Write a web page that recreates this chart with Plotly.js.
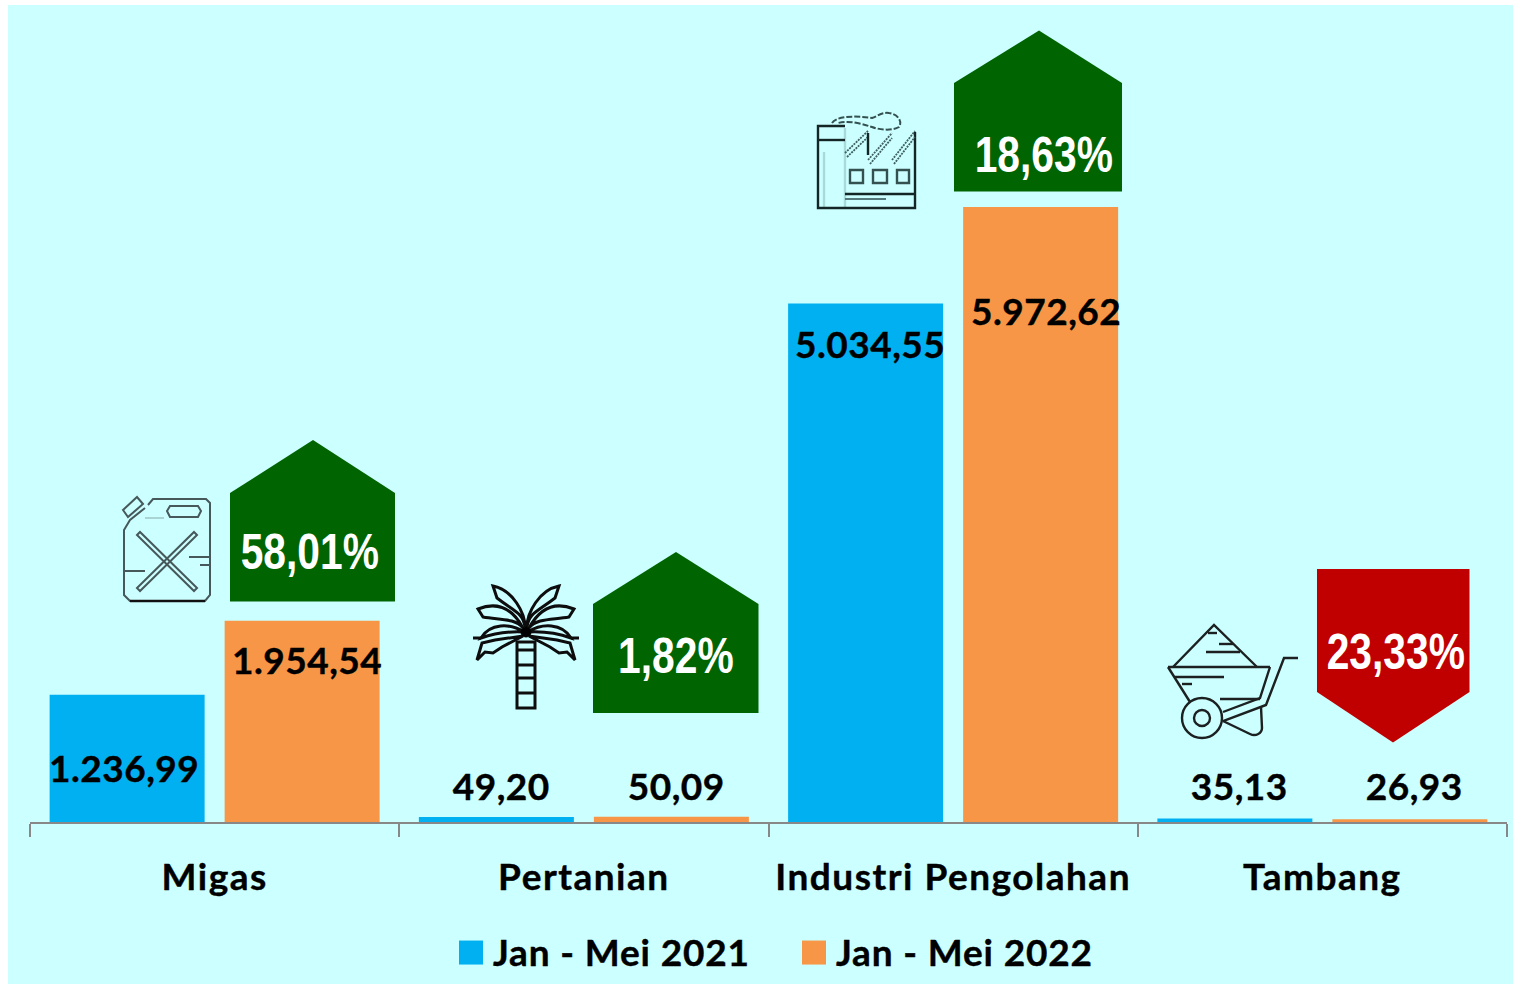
<!DOCTYPE html>
<html><head><meta charset="utf-8">
<script src="https://cdn.plot.ly/plotly-3.0.1.min.js"></script>
<style>html,body{margin:0;padding:0;background:#fff;overflow:hidden}
#chart .xtick text{letter-spacing:1.5px;stroke:#000;stroke-width:.4px}
#chart .legendtext{letter-spacing:.85px;stroke:#000;stroke-width:.4px}
</style>
</head><body><div id="chart" style="width:1513px;height:984px"></div>
<script>
const categories = ['Migas','Pertanian','Industri Pengolahan','Tambang'];
const seriesNames = ['Jan - Mei 2021','Jan - Mei 2022'];
const values2021 = [1236.99,49.20,5034.55,35.13];
const values2022 = [1954.54,50.09,5972.62,26.93];
const growthLabels = ['58,01%','1,82%','18,63%','23,33%'];

const W=1513,H=984,L=30,R=1507,B=822,T=0;
const LABEL_FONT='Lato, Carlito, "Open Sans", sans-serif';
const X=p=>(p-L)/(R-L), Y=p=>(B-p)/(B-T);
// converts an absolute pixel path string to paper coordinates
const P=s=>s.replace(/(-?[\d.]+),(-?[\d.]+)/g,(m,a,b)=>X(+a).toFixed(5)+','+Y(+b).toFixed(5));
const shp=(d,o={})=>({type:'path',xref:'paper',yref:'paper',path:P(d),
  line:{color:o.c||'#1f1f1f',width:o.w===undefined?2:o.w,dash:o.dash||'solid'},
  fillcolor:o.f||'rgba(0,0,0,0)',layer:o.layer||'above'});
const circle=(cx,cy,r)=>{const k=r*0.5523;return `M${cx-r},${cy} C${cx-r},${cy-k} ${cx-k},${cy-r} ${cx},${cy-r} C${cx+k},${cy-r} ${cx+r},${cy-k} ${cx+r},${cy} C${cx+r},${cy+k} ${cx+k},${cy+r} ${cx},${cy+r} C${cx-k},${cy+r} ${cx-r},${cy+k} ${cx-r},${cy} Z`};

const GREEN='#006400',RED='#C00000';
const shapes=[
  shp('M8,5 L1513,5 L1513,984 L8,984 Z',{f:'#CCFFFF',w:0,layer:'below'}),
  shp('M230,601.5 L230,493 L313,440 L395,493 L395,601.5 Z',{f:GREEN,w:0}),
  shp('M593,713 L593,604 L676,552 L758.5,604 L758.5,713 Z',{f:GREEN,w:0}),
  shp('M954,191.5 L954,83 L1039,30.5 L1122,83 L1122,191.5 Z',{f:GREEN,w:0}),
  shp('M1317,569 L1469.5,569 L1469.5,692 L1393,742.5 L1317,692 Z',{f:RED,w:0}),
];
// jerrycan
const can={c:'#46585a',w:2};
[
 'M148,505 L153,499 L206,499 L210,503 L210,595 L205,601 L130,601 L124,595 L124,530 L130,520 L145,508',
 'M123,510 L137,497 L143,504 L128,517 Z',
 'M170,506 L198,506 L201,511 L198,517 L170,517 L167,511 Z',
 'M137,535 L140,532 L197,588 L194,591 Z',
 'M194,532 L197,535 L140,591 L137,588 Z',
 'M125,571 L145,571','M189,557 L209,557','M200,565 L209,565'
].forEach(d=>shapes.push(shp(d,can)));
shapes.push(shp('M145,518 L164,518',{c:'#9fc4c4',w:1.5}));
shapes.push(shp('M130,601 L205,601',{c:'#111',w:2.5}));
// palm
const palm={c:'#0d0d0d',w:3};
[
 'M517,642 L535,642 L535,708 L517,708 Z','M517,650 L535,650','M517,665 L535,665','M517,678 L535,678','M517,693 L535,693',
 'M493,586 C513,590 525,613 525,627 C523,613 515,612 497,598 Z',
 'M559,586 C539,590 527,613 527,627 C529,613 537,612 555,598 Z',
 'M478,609 C493,603 510,604 523,628 C515,618 500,620 483,617 Z',
 'M574,609 C559,603 542,604 529,628 C537,618 552,620 569,617 Z',
 'M481,638 C490,623 510,623 524,632 C505,631 492,634 481,638 Z',
 'M571,638 C562,623 542,623 528,632 C547,631 560,634 571,638 Z',
 'M523,636 L495,640 L482,643 L477,660 L485,652 L493,653 L502,647 Z',
 'M529,636 L557,640 L570,643 L575,660 L567,652 L559,653 L550,647 Z',
 'M473,638 L481,638','M571,638 L579,638'
].forEach(d=>shapes.push(shp(d,palm)));
shapes.push(shp(circle(526,632,5),{c:'#000',w:1,f:'#000'}));
// factory
const fac={c:'#142526',w:2.4}, facL={c:'#a9d9d8',w:2.4}, facH={c:'#3f5f60',w:1.8,dash:'2px,1px'};
[['M824,152 L824,207',facL],['M845,128 L845,207',facL],
 ['M915,132 L915,208 L818,208 L818,126 L845,126',fac],['M818,140 L845,140',fac],
 ['M845,153 L868,131',facH],['M847,157 L868,137',facH],
 ['M868,133 L868,155',fac],
 ['M868,160 L892,133',facH],['M870,164 L892,138',facH],
 ['M892,160 L915,131',facH],['M894,164 L915,137',facH],
 ['M850,170 L863,170 L863,183 L850,183 Z',{c:'#34504f',w:2.4}],
 ['M873,170 L887,170 L887,183 L873,183 Z',{c:'#34504f',w:2.4}],
 ['M897,170 L909,170 L909,183 L897,183 Z',{c:'#34504f',w:2.4}],
 ['M845,194 L915,194',fac],['M845,199 L886,199',{c:'#55797a',w:1.8}],
 ['M832,123 C836,117 850,115 872,118 C878,116 882,112 889,113 C898,114 903,122 899,127 C892,131 880,130 872,127 C862,124 850,120 838,123',{c:'#34504f',w:2,dash:'6px,2px'}]
].forEach(a=>shapes.push(shp(a[0],a[1])));
// wheelbarrow
const wb={c:'#1c2020',w:2.4};
['M1173,667 L1214,625 L1257,667','M1168,667 L1270,667','M1168,667 L1190,702','M1270,667 L1260,698 L1223,712',
 'M1298,658 L1284,658 L1266,705 L1223,721','M1223,721 L1250,734 C1256,737 1262,733 1262,728 L1261,707',
 'M1208,633 L1217,633','M1219,644 L1233,644','M1206,652 L1240,652','M1175,677 L1224,677','M1182,684 L1192,684','M1220,699 L1260,699',
 circle(1202,718,20),circle(1202,718,8)
].forEach(d=>shapes.push(shp(d,wb)));

const labelFont={family:LABEL_FONT,size:37,color:'#000'};
const offs2021=[[-3.5,-73],[5,31],[4.5,-40],[5,33]];
const offs2022=[[4.5,-39],[5,31],[5,-103],[5,34]];
const fmt=v=>v.toLocaleString('de-DE',{minimumFractionDigits:2,maximumFractionDigits:2});
const annotations=[];
categories.forEach((c,i)=>{
  annotations.push({xref:'x',yref:'y',x:i-0.237,y:values2021[i],text:'<b>'+fmt(values2021[i])+'</b>',showarrow:false,xanchor:'center',yanchor:'middle',xshift:offs2021[i][0],yshift:offs2021[i][1],font:labelFont});
  annotations.push({xref:'x',yref:'y',x:i+0.237,y:values2022[i],text:'<b>'+fmt(values2022[i])+'</b>',showarrow:false,xanchor:'center',yanchor:'middle',xshift:offs2022[i][0],yshift:offs2022[i][1],font:labelFont});
});
const pctPos=[[310,552],[676,656],[1044,155],[1396,652]];
growthLabels.forEach((t,i)=>annotations.push({xref:'paper',yref:'paper',x:X(pctPos[i][0]),y:Y(pctPos[i][1]),text:'<b>'+t+'</b>',showarrow:false,xanchor:'center',yanchor:'middle',font:{family:'"Liberation Sans",sans-serif',size:50,color:'#fff'}}));

const traces=[
 {type:'bar',name:seriesNames[0],x:categories,y:values2021,marker:{color:'#00B0F0'},hoverinfo:'x+y'},
 {type:'bar',name:seriesNames[1],x:categories,y:values2022,marker:{color:'#F79646'},hoverinfo:'x+y'}
];
const layout={
 width:W,height:H,autosize:false,paper_bgcolor:'#fff',plot_bgcolor:'rgba(0,0,0,0)',
 margin:{l:L,r:W-R,t:T,b:H-B,pad:0},
 barmode:'group',bargap:0.0521,bargroupgap:0.1143,
 xaxis:{type:'category',categoryorder:'array',categoryarray:categories,tickson:'boundaries',ticks:'outside',ticklen:13,tickwidth:2,tickcolor:'#888',
   showline:true,linecolor:'#888',linewidth:2,showgrid:false,zeroline:false,
   tickfont:{family:LABEL_FONT,size:37,color:'#000',weight:700},ticklabelstandoff:22,fixedrange:true},
 yaxis:{visible:false,range:[0,(B-T)/0.10297],fixedrange:true},
 showlegend:true,
 legend:{orientation:'h',x:X(453),xanchor:'left',y:Y(952),yanchor:'middle',bgcolor:'rgba(0,0,0,0)',traceorder:'normal',
   font:{family:LABEL_FONT,size:37,color:'#000',weight:700},entrywidth:298,entrywidthmode:'pixels',itemclick:false,itemdoubleclick:false},
 shapes,annotations
};
Plotly.newPlot('chart',traces,layout,{displayModeBar:false,staticPlot:true}).then(gd=>{
  gd.querySelectorAll('.legend .legendpoints path').forEach(p=>p.setAttribute('transform','translate(18,1) scale(2)'));
  gd.querySelectorAll('.annotation-text').forEach(t=>{
    if(t.textContent.indexOf('%')<0){t.style.letterSpacing='.5px';t.style.stroke='#000';t.style.strokeWidth='.4px';return;}
    const b=t.getBBox(),cx=b.x+b.width/2,old=t.getAttribute('transform')||'';
    t.setAttribute('transform',old+` translate(${cx},0) scale(0.815,1) translate(${-cx},0)`);
  });
});
</script></body></html>
